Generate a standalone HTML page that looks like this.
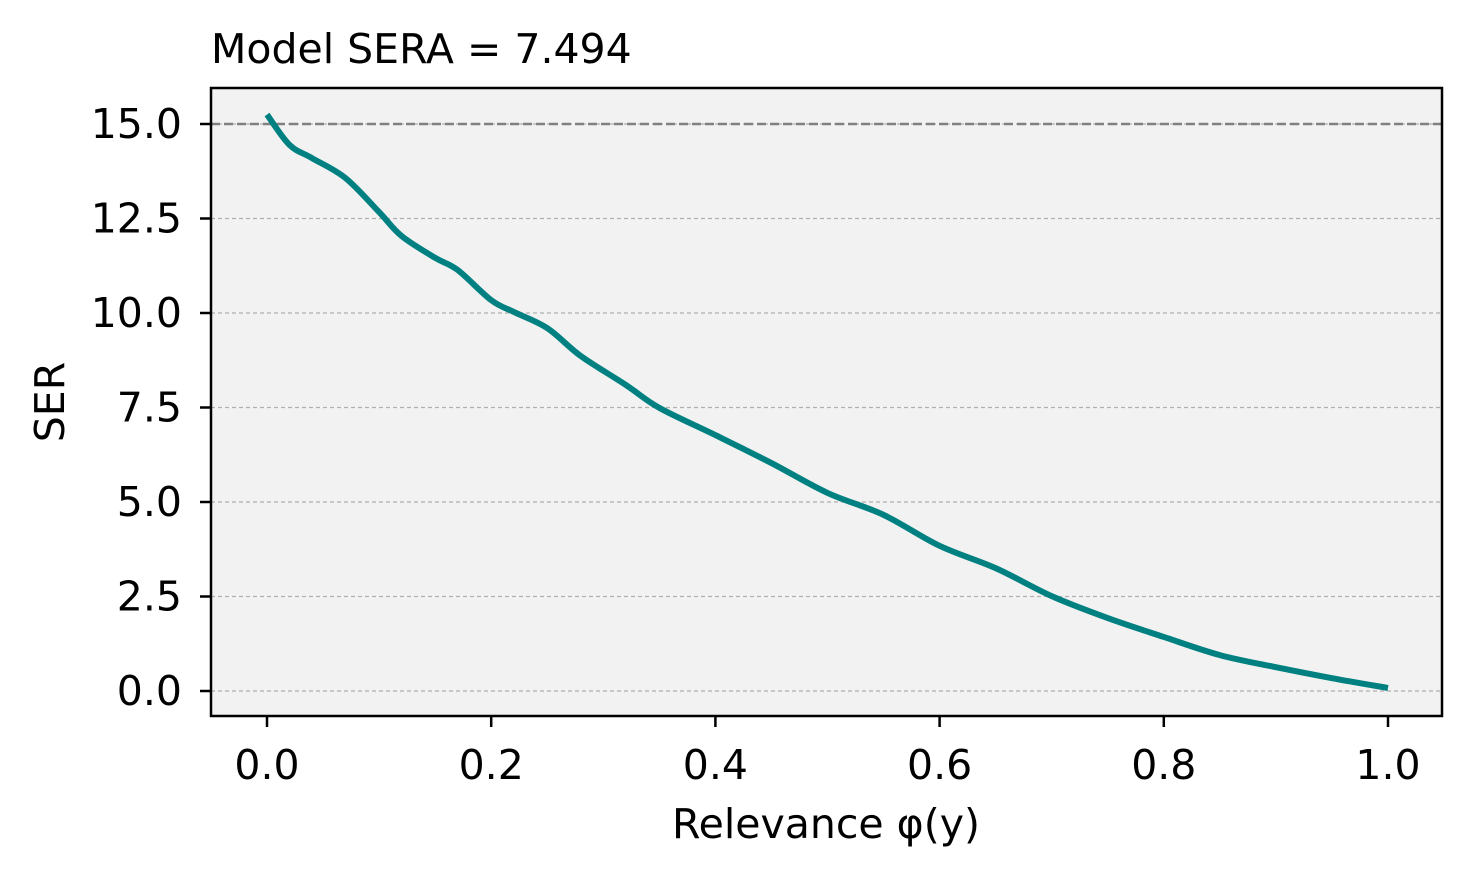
<!DOCTYPE html>
<html><head><meta charset="utf-8"><style>
html,body{margin:0;padding:0;background:#fff;}
svg{display:block;font-family:"DejaVu Sans","Liberation Sans",sans-serif;}
</style></head><body>
<svg id="chart" width="1471" height="876">
<rect x="211" y="88" width="1231" height="628" fill="#f2f2f2"/>
<g id="grid"></g>
<g id="series"></g>
<rect x="211" y="88" width="1231" height="628" fill="none" stroke="#000" stroke-width="2.5"/>
<g id="xticks"></g>
<g id="yticks"></g>
<text x="211" y="63" font-size="41">Model SERA = 7.494</text>
<text x="826" y="838" font-size="41" text-anchor="middle">Relevance φ(y)</text>
<text x="64" y="402" font-size="41" text-anchor="middle" transform="rotate(-90 64 402)">SER</text>
</svg>
<script>
const relevance=[0,0.02,0.04,0.07,0.1,0.12,0.15,0.17,0.2,0.22,0.25,0.28,0.32,0.35,0.4,0.45,0.5,0.55,0.6,0.65,0.7,0.75,0.8,0.85,0.9,0.95,1.0];
const serValues=[15.25,14.45,14.1,13.57,12.67,12.04,11.46,11.14,10.34,10.03,9.6,8.86,8.1,7.49,6.77,6.03,5.24,4.66,3.84,3.25,2.51,1.93,1.43,0.95,0.63,0.34,0.08];
const xTickLabels=["0.0","0.2","0.4","0.6","0.8","1.0"];
const yTickLabels=["0.0","2.5","5.0","7.5","10.0","12.5","15.0"];
const refLine=15.0;
const NS="http://www.w3.org/2000/svg";
const xs=v=>267+v*1121;
const ys=v=>691-v*37.8;
function mk(tag,attrs,parent){const e=document.createElementNS(NS,tag);for(const k in attrs)e.setAttribute(k,attrs[k]);parent.appendChild(e);return e;}
const grid=document.getElementById('grid'),xt=document.getElementById('xticks'),yt=document.getElementById('yticks'),ser=document.getElementById('series');
yTickLabels.forEach(l=>{const v=parseFloat(l),y=ys(v);
 const g=mk('line',{x1:211,x2:1442,y1:y,y2:y,stroke:'#b0b0b0','stroke-width':1.2,'stroke-dasharray':'4,3'},grid);
 
 
 const t=mk('line',{x1:200,x2:211,y1:y,y2:y,stroke:'#000','stroke-width':2.5},yt);
 
 
 const tx=mk('text',{x:182,y:y+14,'font-size':41,'text-anchor':'end'},yt);tx.textContent=l;
 
 
});
xTickLabels.forEach(l=>{const v=parseFloat(l),x=xs(v);
 const t=mk('line',{x1:x,x2:x,y1:716,y2:727,stroke:'#000','stroke-width':2.5},xt);
 
 
 const tx=mk('text',{x:x,y:779,'font-size':41,'text-anchor':'middle'},xt);tx.textContent=l;
 
 
});
const rl=mk('line',{x1:211,x2:1442,y1:ys(refLine),y2:ys(refLine),stroke:'#808080','stroke-width':2.5,'stroke-dasharray':'9,4'},ser);


const pts=relevance.map((r,i)=>[xs(r),ys(serValues[i])]);
let d='M'+pts[0][0]+','+pts[0][1];
for(let i=0;i<pts.length-1;i++){const p0=pts[i-1]||pts[i],p1=pts[i],p2=pts[i+1],p3=pts[i+2]||p2;
 d+=` C${p1[0]+(p2[0]-p0[0])/6},${p1[1]+(p2[1]-p0[1])/6} ${p2[0]-(p3[0]-p1[0])/6},${p2[1]-(p3[1]-p1[1])/6} ${p2[0]},${p2[1]}`;}
const line=mk('path',{d:d,fill:'none',stroke:'#008080','stroke-width':6},ser);


</script>
</body></html>
